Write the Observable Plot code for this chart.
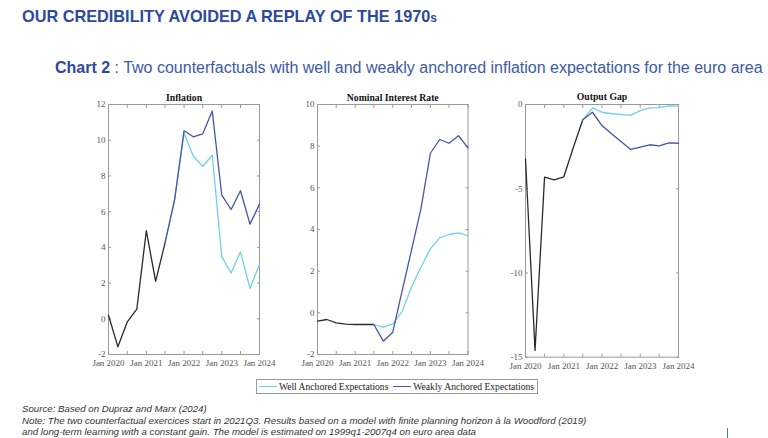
<!DOCTYPE html>
<html><head><meta charset="utf-8">
<script src="https://cdn.jsdelivr.net/npm/d3@7"></script>
<script src="https://cdn.jsdelivr.net/npm/@observablehq/plot@0.6"></script>
<style>
html,body{margin:0;padding:0;background:#fff;}
body{width:768px;height:438px;overflow:hidden;position:relative;font-family:"Liberation Sans",Arial,sans-serif;}
#title{position:absolute;left:22px;top:7px;font-weight:bold;font-size:16.3px;color:#2d4a9c;white-space:nowrap;}
#title small{font-size:12px;}
#sub{position:absolute;left:55px;top:59px;font-size:16px;color:#3a5aa8;white-space:nowrap;}
#sub b{color:#2d4a9c;}
.panel{position:absolute;}
#legend{position:absolute;left:256px;top:379px;width:280px;height:13px;border:1px solid #9a9a9a;font-family:"Liberation Serif",serif;font-size:9.6px;color:#222;display:flex;align-items:center;white-space:nowrap;}
#legend .sw{display:inline-block;width:18px;height:0;border-top:1.2px solid;margin:0 2px 0 2px;}
#foot{position:absolute;left:22px;top:403px;font-style:italic;font-size:9.7px;line-height:11.5px;color:#333;white-space:nowrap;}
#cursor{position:absolute;left:727px;top:428px;width:1px;height:10px;background:#5a6fb0;}
</style></head>
<body>
<div id="title">OUR CREDIBILITY AVOIDED A REPLAY OF THE 1970<small>s</small></div>
<div id="sub"><b>Chart 2</b> : Two counterfactuals with well and weakly anchored inflation expectations for the euro area</div>
<div id="charts"></div>
<div id="legend"></div>
<div id="foot">Source: Based on Dupraz and Marx (2024)<br>Note: The two counterfactual exercices start in 2021Q3. Results based on a model with finite planning horizon à la Woodford (2019)<br>and long-term learning  with a constant gain. The model is estimated on 1999q1-2007q4 on euro area data</div>
<div id="cursor"></div>
<script>
// ---- data ----
const quarters = ["2020-01-01","2020-04-01","2020-07-01","2020-10-01","2021-01-01","2021-04-01","2021-07-01","2021-10-01","2022-01-01","2022-04-01","2022-07-01","2022-10-01","2023-01-01","2023-04-01","2023-07-01","2023-10-01","2024-01-01"];
const histQuarters = quarters.slice(0, 7);
const cfQuarters = quarters.slice(6);

const inflationHist = [0.2, -1.57, -0.17, 0.54, 4.93, 2.1, 4.25];
const inflationWell = [4.25, 6.64, 10.4, 9.1, 8.53, 9.16, 3.47, 2.57, 3.75, 1.7, 3.06];
const inflationWeak = [4.25, 6.64, 10.53, 10.19, 10.36, 11.63, 6.92, 6.12, 7.17, 5.3, 6.42];

const rateHist = [-0.4, -0.32, -0.48, -0.54, -0.56, -0.56, -0.56];
const rateWell = [-0.56, -0.69, -0.53, 0.06, 1.23, 2.19, 3.07, 3.6, 3.76, 3.84, 3.7];
const rateWeak = [-0.56, -1.36, -0.93, 1.04, 3.0, 4.99, 7.66, 8.32, 8.14, 8.5, 7.92];

const gapHist = [-3.23, -14.6, -4.31, -4.47, -4.29, -2.57, -0.91];
const gapWell = [-0.91, -0.2, -0.46, -0.55, -0.59, -0.65, -0.36, -0.2, -0.18, -0.08, -0.1];
const gapWeak = [-0.91, -0.46, -1.25, -1.74, -2.2, -2.67, -2.53, -2.39, -2.45, -2.28, -2.3];

const xTicks = ["2020-01-01","2020-07-01","2021-01-01","2021-07-01","2022-01-01","2022-07-01","2023-01-01","2023-07-01","2024-01-01"];
const xTickLabels = ["Jan 2020","","Jan 2021","","Jan 2022","","Jan 2023","","Jan 2024"];

const inflationTicks = [-2, 0, 2, 4, 6, 8, 10, 12];
const inflationTickLabels = ["-2","0","2","4","6","8","10","12"];
const rateTicks = [-2, 0, 2, 4, 6, 8, 10];
const rateTickLabels = ["-2","0","2","4","6","8","10"];
const gapTicks = [-15, -10, -5, 0];
const gapTickLabels = ["-15","-10","-5","0"];

const panelTitles = ["Inflation", "Nominal Interest Rate", "Output Gap"];
const seriesNames = ["Well Anchored Expectations", "Weakly Anchored Expectations"];
const colors = {hist: "#2a2a2a", well: "#6fd2ea", weak: "#4456ab"};

// ---- build ----
const parse = s => new Date(s + "T00:00:00Z");
const xTickDates = xTicks.map(parse);
const xDomain = [parse(quarters[0]), parse(quarters[quarters.length - 1])];
const toRows = (qs, vals) => qs.map((q, i) => ({date: parse(q), value: vals[i]}));

const panels = [
  {title: panelTitles[0], hist: inflationHist, well: inflationWell, weak: inflationWeak, domain: [-2, 12], ticks: inflationTicks, labels: inflationTickLabels, left: 108, top: 104.3, w: 151, h: 250},
  {title: panelTitles[1], hist: rateHist, well: rateWell, weak: rateWeak, domain: [-2, 10], ticks: rateTicks, labels: rateTickLabels, left: 317, top: 104.3, w: 150.5, h: 250},
  {title: panelTitles[2], hist: gapHist, well: gapWell, weak: gapWeak, domain: [-15, 0], ticks: gapTicks, labels: gapTickLabels, left: 525, top: 104, w: 153, h: 252.7}
];

const mL = 30, mR = 12, mT = 20, mB = 20;
const charts = document.getElementById("charts");
const axisColor = "#9a9a9a";
const labelColor = "#555";

panels.forEach(p => {
  const xFmt = d => { const i = xTickDates.findIndex(t => +t === +d); return i >= 0 ? xTickLabels[i] : ""; };
  const yFmt = d => { const i = p.ticks.indexOf(d); return i >= 0 ? p.labels[i] : ""; };
  const chart = Plot.plot({
    width: p.w + mL + mR,
    height: p.h + mT + mB,
    marginLeft: mL, marginRight: mR, marginTop: mT, marginBottom: mB,
    style: {fontFamily: "'Liberation Serif', 'Times New Roman', serif", fontSize: "9px", background: "transparent", overflow: "visible"},
    x: {type: "utc", domain: xDomain},
    y: {domain: p.domain},
    marks: [
      Plot.axisX({ticks: xTickDates, tickSize: -3, tickPadding: 8.5, tickFormat: xFmt, stroke: axisColor, fill: labelColor, fontSize: 9, label: null}),
      Plot.axisX({anchor: "top", ticks: xTickDates, tickSize: -3, tickFormat: () => "", stroke: axisColor, label: null}),
      Plot.axisY({ticks: p.ticks, tickSize: -3, tickPadding: 6, tickFormat: yFmt, stroke: axisColor, fill: labelColor, fontSize: 9, label: null}),
      Plot.axisY({anchor: "right", ticks: p.ticks, tickSize: -3, tickFormat: () => "", stroke: axisColor, label: null}),
      Plot.frame({stroke: axisColor, strokeWidth: 1}),
      Plot.line(toRows(histQuarters, p.hist), {x: "date", y: "value", stroke: colors.hist, strokeWidth: 1.3}),
      Plot.line(toRows(cfQuarters, p.well), {x: "date", y: "value", stroke: colors.well, strokeWidth: 1.3}),
      Plot.line(toRows(cfQuarters, p.weak), {x: "date", y: "value", stroke: colors.weak, strokeWidth: 1.3}),
      Plot.text([p.title], {frameAnchor: "top", dy: -4, lineAnchor: "bottom", fontWeight: "bold", fontSize: 9.7, fill: "#111"})
    ]
  });
  const wrap = document.createElement("div");
  wrap.className = "panel";
  wrap.style.left = (p.left - mL) + "px";
  wrap.style.top = (p.top - mT) + "px";
  wrap.appendChild(chart);
  charts.appendChild(wrap);
});

// legend
const legend = document.getElementById("legend");
[["well", seriesNames[0]], ["weak", seriesNames[1]]].forEach(([k, name]) => {
  const sw = document.createElement("span");
  sw.className = "sw";
  sw.style.borderTopColor = colors[k];
  legend.appendChild(sw);
  const t = document.createElement("span");
  t.textContent = name;
  t.style.marginRight = "3px";
  legend.appendChild(t);
});
</script>
</body></html>
